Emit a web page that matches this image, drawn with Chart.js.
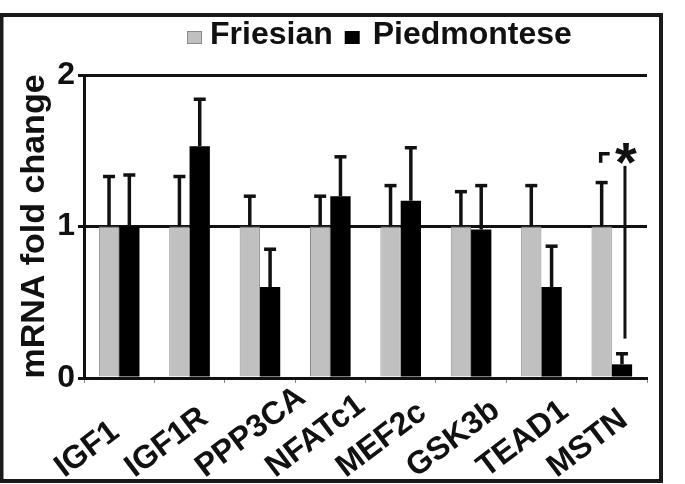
<!DOCTYPE html>
<html><head><meta charset="utf-8">
<script src="https://cdn.jsdelivr.net/npm/chart.js@4"></script>
<style>html,body{margin:0;padding:0;background:#fff;} canvas{display:block;}</style>
</head><body>
<canvas id="c" width="685" height="484"></canvas>
<script>
// ---- data ----
const categories = ['IGF1','IGF1R','PPP3CA','NFATc1','MEF2c','GSK3b','TEAD1','MSTN'];
const seriesNames = ['Friesian','Piedmontese'];
const friesian = [1.00,1.00,1.00,1.00,1.00,1.00,1.00,1.00];
const friesianErr = [0.33,0.33,0.20,0.20,0.27,0.23,0.27,0.29];
const piedmontese = [1.00,1.53,0.60,1.20,1.17,0.98,0.60,0.09];
const piedmonteseErr = [0.34,0.31,0.25,0.26,0.35,0.29,0.27,0.07];
const yTicks = [0,1,2];
// significance annotation (MSTN)
const sigIndex = 7;
const sigLow = 0.26, sigHigh = 1.40, sigCornerTop = 1.48, sigCornerBottom = 1.42;
const sigMark = '*';

const FONT = "'Liberation Sans', Arial, Helvetica, sans-serif";
const INK = '#111';
const GRAY = '#c0c0c0';

const errorBarPlugin = {
  id: 'errorBars',
  afterDatasetsDraw(chart) {
    const ctx = chart.ctx, y = chart.scales.y;
    ctx.save();
    ctx.strokeStyle = INK;
    ctx.lineWidth = 3.5;
    chart.data.datasets.forEach((ds, di) => {
      const meta = chart.getDatasetMeta(di);
      meta.data.forEach((bar, i) => {
        const v = ds.data[i], e = ds.errors[i];
        const y0 = y.getPixelForValue(v), y1 = y.getPixelForValue(v + e);
        ctx.beginPath(); ctx.moveTo(bar.x, y0); ctx.lineTo(bar.x, y1); ctx.stroke();
        ctx.beginPath(); ctx.moveTo(bar.x - 6, y1); ctx.lineTo(bar.x + 6, y1); ctx.stroke();
      });
    });
    ctx.restore();
  }
};

const xLabelPlugin = {
  id: 'xLabels',
  afterDraw(chart) {
    const ctx = chart.ctx, xs = chart.scales.x;
    ctx.save();
    ctx.fillStyle = INK;
    ctx.font = 'bold 32px ' + FONT;
    ctx.textAlign = 'left';
    ctx.textBaseline = 'alphabetic';
    chart.data.labels.forEach((lab, i) => {
      const x = xs.getPixelForValue(i) - 55;
      const yy = xs.top + 100;
      ctx.save();
      ctx.translate(x, yy);
      ctx.rotate(-37 * Math.PI / 180);
      ctx.fillText(lab, 0, 0);
      ctx.restore();
    });
    ctx.restore();
  }
};

const legendPlugin = {
  id: 'customLegend',
  afterDraw(chart) {
    const ctx = chart.ctx;
    const ds = chart.data.datasets;
    ctx.save();
    ctx.font = 'bold 32px ' + FONT;
    ctx.textBaseline = 'alphabetic';
    ctx.textAlign = 'left';
    let x = 187;
    const gaps = [8, 13];
    ds.forEach((d, i) => {
      ctx.fillStyle = d.backgroundColor;
      ctx.fillRect(x, 31, 15, 13);
      if (d.borderWidth) { ctx.strokeStyle = d.borderColor; ctx.lineWidth = 1; ctx.strokeRect(x + 0.5, 31.5, 14, 12); }
      x += 15 + gaps[i];
      ctx.fillStyle = INK;
      ctx.fillText(d.label, x, 44);
      x += ctx.measureText(d.label).width + 12;
    });
    ctx.restore();
  }
};

const sigPlugin = {
  id: 'sig',
  afterDraw(chart) {
    const ctx = chart.ctx, y = chart.scales.y;
    const gBar = chart.getDatasetMeta(0).data[sigIndex];
    const pBar = chart.getDatasetMeta(1).data[sigIndex];
    const lx = pBar.x + 3;
    ctx.save();
    ctx.strokeStyle = INK;
    ctx.lineWidth = 3;
    ctx.beginPath(); ctx.moveTo(lx, y.getPixelForValue(sigLow)); ctx.lineTo(lx, y.getPixelForValue(sigHigh)); ctx.stroke();
    const cx = gBar.x - 1;
    const cyT = y.getPixelForValue(sigCornerTop), cyB = y.getPixelForValue(sigCornerBottom);
    ctx.lineWidth = 3.5;
    ctx.beginPath(); ctx.moveTo(cx, cyB); ctx.lineTo(cx, cyT); ctx.lineTo(cx + 9, cyT); ctx.stroke();
    ctx.fillStyle = INK;
    ctx.font = 'bold 56px ' + FONT;
    ctx.textAlign = 'center';
    ctx.textBaseline = 'alphabetic';
    const m = ctx.measureText(sigMark);
    const h = m.actualBoundingBoxAscent + m.actualBoundingBoxDescent;
    const mid = y.getPixelForValue(sigCornerTop);
    ctx.fillText(sigMark, lx + 1, mid - h / 2 + m.actualBoundingBoxAscent);
    ctx.restore();
  }
};

const framePlugin = {
  id: 'frame',
  afterDraw(chart) {
    const ctx = chart.ctx;
    ctx.save();
    ctx.strokeStyle = '#1a1a1a';
    ctx.lineWidth = 4;
    ctx.strokeRect(1.5, 15, 659.5, 466);
    ctx.restore();
  }
};

new Chart(document.getElementById('c'), {
  type: 'bar',
  data: {
    labels: categories,
    datasets: [
      {label: seriesNames[0], data: friesian, errors: friesianErr, backgroundColor: GRAY, borderColor: '#8a8a8a', borderWidth: 1},
      {label: seriesNames[1], data: piedmontese, errors: piedmonteseErr, backgroundColor: '#000', borderColor: '#000', borderWidth: 0}
    ]
  },
  options: {
    responsive: false,
    animation: false,
    devicePixelRatio: 1,
    layout: {padding: {top: 75, left: 0, right: 38, bottom: 0}},
    datasets: {bar: {categoryPercentage: 0.577, barPercentage: 1.0}},
    plugins: {legend: {display: false}, tooltip: {enabled: false}},
    scales: {
      x: {
        grid: {display: true, drawOnChartArea: false, drawTicks: true, tickLength: 5, color: '#888', lineWidth: 1, offset: true},
        border: {display: true, color: INK, width: 3},
        ticks: {display: false},
        afterFit: s => { s.height = 106; }
      },
      y: {
        min: 0, max: 2, z: 1,
        afterBuildTicks: s => { s.ticks = yTicks.map(v => ({value: v})); },
        grid: {color: INK, lineWidth: 3, drawTicks: true, tickLength: 6},
        border: {display: true, color: INK, width: 3},
        ticks: {font: {family: FONT, size: 32, weight: 'bold'}, color: INK, padding: 3},
        title: {display: true, text: 'mRNA fold change', font: {family: FONT, size: 34, weight: 'bold'}, color: INK, padding: {top: 14, bottom: 0}},
        afterFit: s => { s.width = 84; }
      }
    }
  },
  plugins: [errorBarPlugin, xLabelPlugin, legendPlugin, sigPlugin, framePlugin]
});
</script>
</body></html>
